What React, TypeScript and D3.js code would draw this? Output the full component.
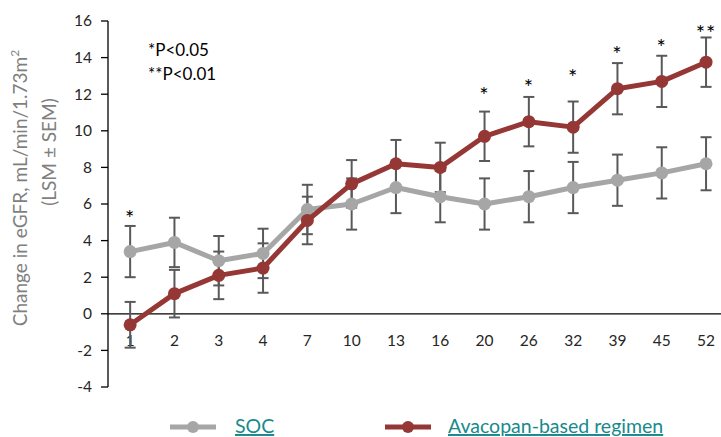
import { useEffect, useRef } from "react"
import * as d3 from "d3"

// weeks on the x axis
const weeks = ["1", "2", "3", "4", "7", "10", "13", "16", "20", "26", "32", "39", "45", "52"]

// LSM change in eGFR
const socMean = [3.4, 3.9, 2.9, 3.3, 5.7, 6.0, 6.9, 6.4, 6.0, 6.4, 6.9, 7.3, 7.7, 8.2]
const socSem = [1.4, 1.35, 1.35, 1.35, 1.35, 1.4, 1.4, 1.4, 1.4, 1.4, 1.4, 1.4, 1.4, 1.45]
const avaMean = [-0.6, 1.1, 2.1, 2.5, 5.1, 7.1, 8.2, 8.0, 9.7, 10.5, 10.2, 12.3, 12.7, 13.75]
const avaSem = [1.25, 1.3, 1.3, 1.35, 1.3, 1.3, 1.3, 1.35, 1.35, 1.35, 1.4, 1.4, 1.4, 1.35]

// significance markers and where they sit (data units)
const stars = ["*", "", "", "", "", "", "", "", "*", "*", "*", "*", "*", "**"]
const starLevel = [5.6, 0, 0, 0, 0, 0, 0, 0, 12.3, 12.75, 13.3, 14.55, 14.95, 15.7]

const yTicks = [-4, -2, 0, 2, 4, 6, 8, 10, 12, 14, 16]

const FONT = "Lato, Carlito, Calibri, 'DejaVu Sans', sans-serif"
const GRAY = "#a6a6a6"
const RED = "#953735"
const BAR = "#595959"

export default function App() {
  const svgRef = useRef<SVGSVGElement>(null)

  useEffect(() => {
    if (!svgRef.current) return
    const svg = d3.select(svgRef.current)
    svg.selectAll("*").remove()

    const width = 721
    const height = 437
    const x0 = 108
    const step = 44.3

    const x = d3
      .scaleBand()
      .domain(weeks)
      .range([x0, x0 + step * weeks.length])
      .paddingInner(0)
      .paddingOuter(0)
    const cx = (d: string) => (x(d) ?? 0) + x.bandwidth() / 2

    const y = d3.scaleLinear().domain([-4, 16]).range([387, 21])

    svg.attr("width", width).attr("height", height)

    // y axis
    svg
      .append("line")
      .attr("x1", x0)
      .attr("x2", x0)
      .attr("y1", y(16))
      .attr("y2", y(-4))
      .attr("stroke", "#000")
      .attr("stroke-width", 1.3)

    svg
      .selectAll(".ytick")
      .data(yTicks)
      .join("line")
      .attr("x1", x0 - 7)
      .attr("x2", x0)
      .attr("y1", (d) => y(d))
      .attr("y2", (d) => y(d))
      .attr("stroke", "#000")
      .attr("stroke-width", 1.3)

    svg
      .selectAll(".ylab")
      .data(yTicks)
      .join("text")
      .attr("x", x0 - 16)
      .attr("y", (d) => y(d))
      .attr("dy", "0.35em")
      .attr("text-anchor", "end")
      .attr("font-family", FONT)
      .attr("font-size", 15.5)
      .attr("fill", "#262626")
      .text((d) => d)

    // x axis at zero
    svg
      .append("line")
      .attr("x1", x0)
      .attr("x2", width)
      .attr("y1", y(0))
      .attr("y2", y(0))
      .attr("stroke", "#000")
      .attr("stroke-width", 1.3)

    svg
      .selectAll(".xlab")
      .data(weeks)
      .join("text")
      .attr("x", (d) => cx(d))
      .attr("y", y(0) + 32)
      .attr("text-anchor", "middle")
      .attr("font-family", FONT)
      .attr("font-size", 15.5)
      .attr("fill", "#262626")
      .text((d) => d)

    // y axis title
    svg
      .append("text")
      .attr("transform", `translate(27,188) rotate(-90)`)
      .attr("text-anchor", "middle")
      .attr("font-family", FONT)
      .attr("font-size", 19)
      .attr("fill", "#7f7f7f")
      .text("Change in eGFR, mL/min/1.73m")
      .append("tspan")
      .attr("dy", -8)
      .attr("font-size", 12)
      .text("2")

    svg
      .append("text")
      .attr("transform", `translate(56,152) rotate(-90)`)
      .attr("text-anchor", "middle")
      .attr("font-family", FONT)
      .attr("font-size", 19)
      .attr("fill", "#7f7f7f")
      .text("(LSM ± SEM)")

    // error bars
    const series = [
      { mean: socMean, sem: socSem, color: GRAY },
      { mean: avaMean, sem: avaSem, color: RED },
    ]

    series.forEach((s) => {
      const g = svg.append("g")
      weeks.forEach((w, i) => {
        const top = y(s.mean[i] + s.sem[i])
        const bot = y(s.mean[i] - s.sem[i])
        g.append("line")
          .attr("x1", cx(w))
          .attr("x2", cx(w))
          .attr("y1", top)
          .attr("y2", bot)
          .attr("stroke", BAR)
          .attr("stroke-width", 2)
        ;[top, bot].forEach((v) =>
          g
            .append("line")
            .attr("x1", cx(w) - 5.5)
            .attr("x2", cx(w) + 5.5)
            .attr("y1", v)
            .attr("y2", v)
            .attr("stroke", BAR)
            .attr("stroke-width", 2),
        )
      })
    })

    // lines + markers
    series.forEach((s) => {
      const line = d3
        .line<number>()
        .x((_, i) => cx(weeks[i]))
        .y((d) => y(d))
      svg
        .append("path")
        .attr("d", line(s.mean))
        .attr("fill", "none")
        .attr("stroke", s.color)
        .attr("stroke-width", 5)
        .attr("stroke-linejoin", "round")
      svg
        .append("g")
        .selectAll("circle")
        .data(s.mean)
        .join("circle")
        .attr("cx", (_, i) => cx(weeks[i]))
        .attr("cy", (d) => y(d))
        .attr("r", 6.5)
        .attr("fill", s.color)
    })

    // significance stars
    svg
      .selectAll(".star")
      .data(stars)
      .join("text")
      .attr("x", (_, i) => cx(weeks[i]))
      .attr("y", (_, i) => y(starLevel[i]))
      .attr("dy", "0.66em")
      .attr("text-anchor", "middle")
      .attr("font-family", FONT)
      .attr("font-size", 22)
      .attr("letter-spacing", 1)
      .attr("fill", "#000")
      .text((d) => d)

    // p-value note
    svg
      .append("text")
      .attr("x", 148)
      .attr("y", 56)
      .attr("font-family", FONT)
      .attr("font-size", 17)
      .attr("fill", "#000")
      .text("*P<0.05")
    svg
      .append("text")
      .attr("x", 148)
      .attr("y", 80)
      .attr("font-family", FONT)
      .attr("font-size", 17)
      .attr("fill", "#000")
      .text("**P<0.01")

    // legend
    const legend = [
      { label: "SOC", color: GRAY, x: 170, tx: 235 },
      { label: "Avacopan-based regimen", color: RED, x: 385, tx: 448 },
    ]
    const ly = 427
    legend.forEach((l) => {
      svg
        .append("line")
        .attr("x1", l.x)
        .attr("x2", l.x + 46)
        .attr("y1", ly)
        .attr("y2", ly)
        .attr("stroke", l.color)
        .attr("stroke-width", 5)
      svg
        .append("circle")
        .attr("cx", l.x + 23)
        .attr("cy", ly)
        .attr("r", 6)
        .attr("fill", l.color)
      svg
        .append("text")
        .attr("x", l.tx)
        .attr("y", ly + 6)
        .attr("font-family", FONT)
        .attr("font-size", 19.5)
        .attr("fill", "#178a8c")
        .attr("text-decoration", "underline")
        .text(l.label)
    })
  }, [])

  return <svg ref={svgRef} style={{ position: "absolute", left: 0, top: 0 }} />
}
